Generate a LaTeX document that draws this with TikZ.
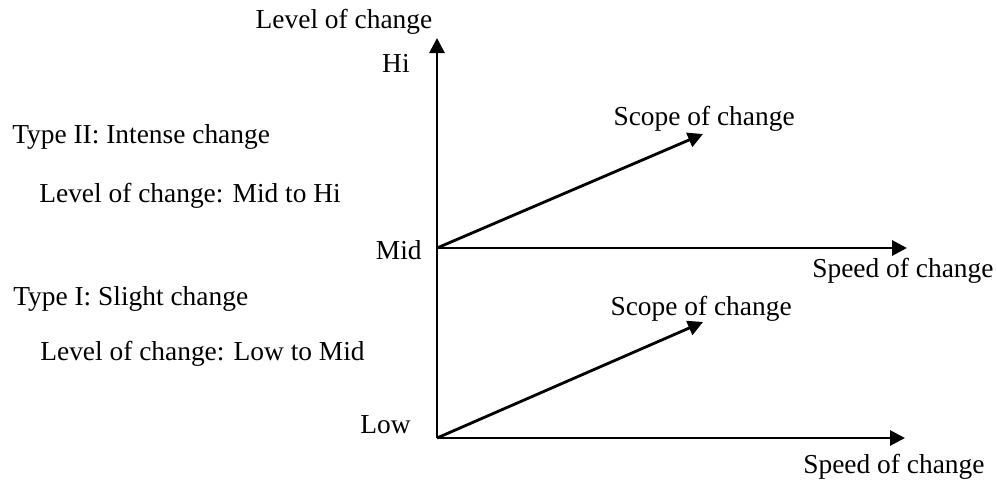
\documentclass[tikz,border=0pt]{standalone}
\usepackage{fontspec}
\setmainfont{Liberation Serif}
\usetikzlibrary{arrows.meta}
\begin{document}
\begin{tikzpicture}[x=0.02cm,y=-0.02cm,
  lbl/.style={inner sep=0pt,font=\fontsize{15.6}{18}\selectfont},
  axis/.style={line width=1.6pt,-{Triangle[length=0.3cm,width=0.3cm]}}]
\useasboundingbox (0,0) rectangle (997,481);
% coordinates
\coordinate (O2) at (437,248);
\coordinate (O1) at (437,438);
\coordinate (ytip) at (437,38);
\coordinate (x2tip) at (907,248);
\coordinate (x1tip) at (905,438);
\coordinate (s2tip) at (703,134);
\coordinate (s1tip) at (703,322);
% axes
\draw[axis] (O1) -- (ytip);
\draw[axis] (O2) -- (x2tip);
\draw[axis] (O1) -- (x1tip);
\draw[axis] (O2) -- (s2tip);
\draw[axis] (O1) -- (s1tip);
% labels
\node[lbl,anchor=base] (lev) at (344,28) {Level of change};
\node[lbl,anchor=base east] (hi) at (410,72) {Hi};
\node[lbl,anchor=base east] (mid) at (422,259) {Mid};
\node[lbl,anchor=base east] (low) at (411,433) {Low};
\node[lbl,anchor=base east] (sc2) at (795,125) {Scope of change};
\node[lbl,anchor=base east] (sc1) at (792,315) {Scope of change};
\node[lbl,anchor=base west] (sp2) at (812,277) {Speed of change};
\node[lbl,anchor=base west] (sp1) at (803,473) {Speed of change};
\node[lbl,anchor=base west] (t2) at (12,143) {Type II: Intense change};
\node[lbl,anchor=base west] (l2) at (39,202) {Level of change: Mid to Hi};
\node[lbl,anchor=base west] (t1) at (13,305) {Type I: Slight change};
\node[lbl,anchor=base west] (l1) at (40,360) {Level of change: Low to Mid};
\end{tikzpicture}
\end{document}
